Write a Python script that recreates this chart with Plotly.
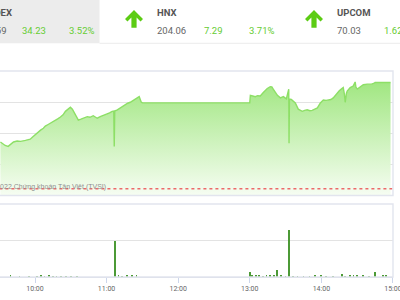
import plotly.graph_objects as go

W, H = 400, 300
DAY = "2022-07-08 "

# ---- price series (VN-Index intraday) ----
price_times = [
    "09:31:00", "09:33:00", "09:35:00", "09:37:30", "09:40:00", "09:42:00", "09:45:00", "09:48:00",
    "09:52:00", "09:56:00", "09:58:00", "10:00:30", "10:03:00", "10:04:40", "10:07:00", "10:08:40",
    "10:11:00", "10:13:00", "10:15:00", "10:17:00", "10:19:00", "10:21:20", "10:23:30", "10:25:30",
    "10:27:30", "10:29:40", "10:31:20", "10:33:50", "10:36:20", "10:38:30", "10:40:30", "10:43:50",
    "10:46:00", "10:48:50", "10:50:30", "10:52:10", "10:54:40", "10:57:30", "11:00:30", "11:02:30",
    "11:04:40", "11:06:00", "11:06:25", "11:06:50", "11:09:00", "11:11:20", "11:13:30", "11:15:40",
    "11:17:40", "11:19:50", "11:22:00", "11:24:00", "11:26:00", "11:27:20", "11:29:00", "11:30:00",
    "13:00:00", "13:00:30", "13:02:30", "13:04:40", "13:06:30", "13:08:50", "13:11:20", "13:13:00",
    "13:14:40", "13:17:10", "13:18:30", "13:19:40", "13:21:30", "13:23:10", "13:25:40", "13:28:10",
    "13:30:40", "13:32:40", "13:32:55", "13:33:15", "13:34:50", "13:36:30", "13:38:10", "13:40:40",
    "13:44:00", "13:46:00", "13:48:10", "13:50:20", "13:52:20", "13:54:30", "13:56:40", "13:59:10",
    "14:01:40", "14:04:00", "14:05:50", "14:08:00", "14:10:00", "14:11:40", "14:13:20", "14:15:00",
    "14:16:40", "14:18:20", "14:19:20", "14:20:00", "14:21:00", "14:21:40", "14:24:10", "14:26:40",
    "14:28:20", "14:29:00", "14:30:10", "14:32:40", "14:35:10", "14:38:30", "14:42:00", "14:44:20",
    "14:45:00", "14:58:00",
]
price_values = [
    987.3, 986.8, 986.2, 985.9, 986.7, 987.3, 987.6, 987.5,
    987.8, 988.2, 988.9, 989.8, 990.6, 991.1, 991.7, 992.4,
    992.9, 993.3, 993.8, 994.3, 994.7, 995.3, 996.0, 997.1,
    997.8, 998.4, 997.8, 996.0, 994.3, 994.6, 994.9, 995.4,
    995.2, 995.7, 995.3, 994.9, 995.4, 995.8, 996.3, 996.6,
    997.1, 997.2, 985.9, 997.2, 997.6, 998.2, 998.7, 999.2,
    999.7, 1000.0, 1000.5, 1000.9, 1001.4, 1001.8, 1000.1, 999.8,
    999.8, 1002.2, 1002.0, 1001.8, 1002.1, 1002.0, 1003.1, 1003.8,
    1004.4, 1005.0, 1004.9, 1004.2, 1003.0, 1002.2, 1001.4, 1001.8,
    1001.1, 1004.2, 986.9, 1001.0, 1000.9, 1000.3, 999.8, 997.8,
    997.1, 997.4, 997.6, 997.3, 997.4, 997.8, 998.2, 999.8,
    1000.7, 1000.6, 1000.7, 1000.9, 1001.4, 1002.2, 1003.1, 1003.7,
    1004.2, 1004.7, 1002.5, 1000.0, 1002.8, 1003.6, 1004.7, 1005.2,
    1006.5, 1004.8, 1004.2, 1005.0, 1005.6, 1005.8, 1005.8, 1006.1,
    1006.3, 1006.3,
]
reference_price = 972.36

# ---- volume series ----
volume_times = [
    "09:39:30", "09:47:00", "09:55:00", "10:02:00", "10:05:00", "10:08:00", "10:12:00", "10:15:00",
    "10:18:00", "10:22:00", "10:26:00", "10:30:00", "10:35:00", "11:07:10", "11:10:00", "11:13:00",
    "11:17:00", "11:21:00", "11:25:00", "13:00:00", "13:02:00", "13:05:00", "13:08:00", "13:11:00",
    "13:14:00", "13:17:00", "13:20:00", "13:23:10", "13:26:00", "13:30:00", "13:33:00", "13:36:00",
    "13:40:00", "13:45:00", "13:50:00", "13:55:00", "14:00:00", "14:04:00", "14:10:00", "14:17:30",
    "14:20:00", "14:24:00", "14:27:00", "14:30:00", "14:35:00", "14:40:00", "14:45:10", "14:51:50",
    "14:54:00",
]
volume_values = [
    0.05, 0.01, 0.015, 0.02, 0.03, 0.02, 0.03, 0.02,
    0.015, 0.02, 0.015, 0.02, 0.015, 0.99, 0.03, 0.02,
    0.03, 0.03, 0.04, 0.13, 0.04, 0.03, 0.03, 0.02,
    0.03, 0.03, 0.03, 0.18, 0.03, 0.02, 1.29, 0.02,
    0.02, 0.015, 0.02, 0.03, 0.04, 0.02, 0.02, 0.09,
    0.02, 0.03, 0.04, 0.03, 0.03, 0.02, 0.13, 0.05,
    0.03,
]

x_ticks = ["10:00", "11:00", "12:00", "13:00", "14:00", "15:00"]

copyright_text = "©2022 Chứng khoán Tân Việt (TVSI)"
copyright_time = "09:23:10"

# ---- header ----
header_items = [
    # (text, x_px, y_px, anchor, color, bold)
    ("VNINDEX", 13.5, 12, "right", "#555555", True),
    ("1006.59", 8.5, 31, "right", "#666666", False),
    ("34.23", 20, 31, "left", "#66cc33", False),
    ("3.52%", 67, 31, "left", "#66cc33", False),
    ("HNX", 154.5, 12, "left", "#555555", True),
    ("204.06", 154.5, 31, "left", "#666666", False),
    ("7.29", 201.5, 31, "left", "#66cc33", False),
    ("3.71%", 246.5, 31, "left", "#66cc33", False),
    ("UPCOM", 334.5, 12, "left", "#555555", True),
    ("70.03", 334.5, 31, "left", "#666666", False),
    ("1.62", 381.5, 31, "left", "#66cc33", False),
]
arrow_centers = [134, 314]


def px(x):
    return x / W


def py(y):
    return 1 - y / H


PLOT_RIGHT = 393
PRICE_TOP, PRICE_BOT = 71, 195.5
VOL_TOP, VOL_BOT = 204, 277

fig = go.Figure()

fig.add_trace(go.Scatter(
    x=[DAY + t for t in price_times], y=price_values,
    mode="lines", line=dict(color="#8ddf66", width=1.4),
    fill="tozeroy",
    fillgradient=dict(type="vertical", start=970.2, stop=1007,
                      colorscale=[[0, "#f6fdf2"], [1, "#9fe67f"]]),
    xaxis="x", yaxis="y", hoverinfo="skip", showlegend=False,
))
fig.add_trace(go.Scatter(
    x=[DAY + "09:00:00", DAY + "15:30:00"], y=[reference_price, reference_price],
    mode="lines", line=dict(color="#ec6a6a", width=1.6, dash="dot"),
    xaxis="x", yaxis="y", hoverinfo="skip", showlegend=False,
))
fig.add_trace(go.Scatter(
    x=[DAY + copyright_time], y=[reference_price + 0.5], mode="text",
    text=[copyright_text], textposition="middle right",
    textfont=dict(size=7, color="#8f8f8f", family="Arial, sans-serif"),
    xaxis="x", yaxis="y", hoverinfo="skip", showlegend=False,
))
fig.add_trace(go.Bar(
    x=[DAY + t for t in volume_times], y=volume_values,
    width=42000, marker=dict(color="#4c9a36", line=dict(width=0)),
    xaxis="x2", yaxis="y2", hoverinfo="skip", showlegend=False,
))

xrange = [DAY + "09:30:40", DAY + "15:00:03"]
dom_x = [0, PLOT_RIGHT / W]

fig.update_layout(
    width=W, height=H,
    margin=dict(l=0, r=0, t=0, b=0),
    paper_bgcolor="white", plot_bgcolor="white",
    font=dict(family="Roboto, Arial, sans-serif"),
    bargap=0,
    xaxis=dict(domain=dom_x, range=xrange, type="date", showticklabels=False,
               showgrid=False, zeroline=False, ticks="", anchor="y", automargin=False),
    yaxis=dict(domain=[py(PRICE_BOT), py(PRICE_TOP)], range=[970.2, 1010],
               tickvals=[980, 990, 1000], showticklabels=False, gridcolor="#e3e3e3",
               gridwidth=1, zeroline=False, anchor="x", automargin=False),
    xaxis2=dict(domain=dom_x, range=xrange, type="date",
                tickvals=[DAY + t + ":00" for t in x_ticks], ticktext=x_ticks,
                ticks="outside", ticklen=5, tickcolor="#ccd6eb", tickwidth=1,
                tickfont=dict(size=7, color="#666666"), ticklabeloverflow="allow",
                showline=True, linecolor="#d6dbe6", linewidth=1,
                showgrid=False, zeroline=False, anchor="y2", automargin=False),
    yaxis2=dict(domain=[py(VOL_BOT), py(VOL_TOP)], range=[0, 2], tickvals=[1],
                showticklabels=False, gridcolor="#e3e3e3", zeroline=False,
                anchor="x2", automargin=False),
)

shapes = []
# header grey box and separator
shapes.append(dict(type="rect", xref="paper", yref="paper", x0=px(-2), x1=px(99.5),
                   y0=py(43.3), y1=py(-2), fillcolor="#ececec", line=dict(width=0), layer="below"))
shapes.append(dict(type="line", xref="paper", yref="paper", x0=px(99.5), x1=px(402),
                   y0=py(43.3), y1=py(43.3), line=dict(color="#ececec", width=1)))
# pane borders
for top, bot in [(PRICE_TOP, PRICE_BOT), (VOL_TOP, VOL_BOT)]:
    shapes.append(dict(type="rect", xref="paper", yref="paper", x0=px(-3), x1=px(PLOT_RIGHT),
                       y0=py(bot), y1=py(top), fillcolor="rgba(0,0,0,0)",
                       line=dict(color="#e2e5ee", width=1.4), layer="above"))
# arrows
for cx in arrow_centers:
    pts = [(cx, 10), (cx + 9, 19), (cx + 6.5, 21.5), (cx + 2.6, 17.6), (cx + 2.6, 27.7),
           (cx - 2.6, 27.7), (cx - 2.6, 17.6), (cx - 6.5, 21.5), (cx - 9, 19)]
    path = "M " + " L ".join(f"{px(a):.5f},{py(b):.5f}" for a, b in pts) + " Z"
    shapes.append(dict(type="path", xref="paper", yref="paper", path=path,
                       fillcolor="#5ccc14", line=dict(width=0)))
fig.update_layout(shapes=shapes)

annotations = []
for text, x, y, anchor, color, bold in header_items:
    annotations.append(dict(
        text=f"<b>{text}</b>" if bold else text, x=px(x), y=py(y), xref="paper", yref="paper",
        xanchor=anchor, yanchor="middle", showarrow=False,
        font=dict(size=9.5, color=color, family="Roboto, Arial, sans-serif")))
fig.update_layout(annotations=annotations)

fig.write_html("out.html")
